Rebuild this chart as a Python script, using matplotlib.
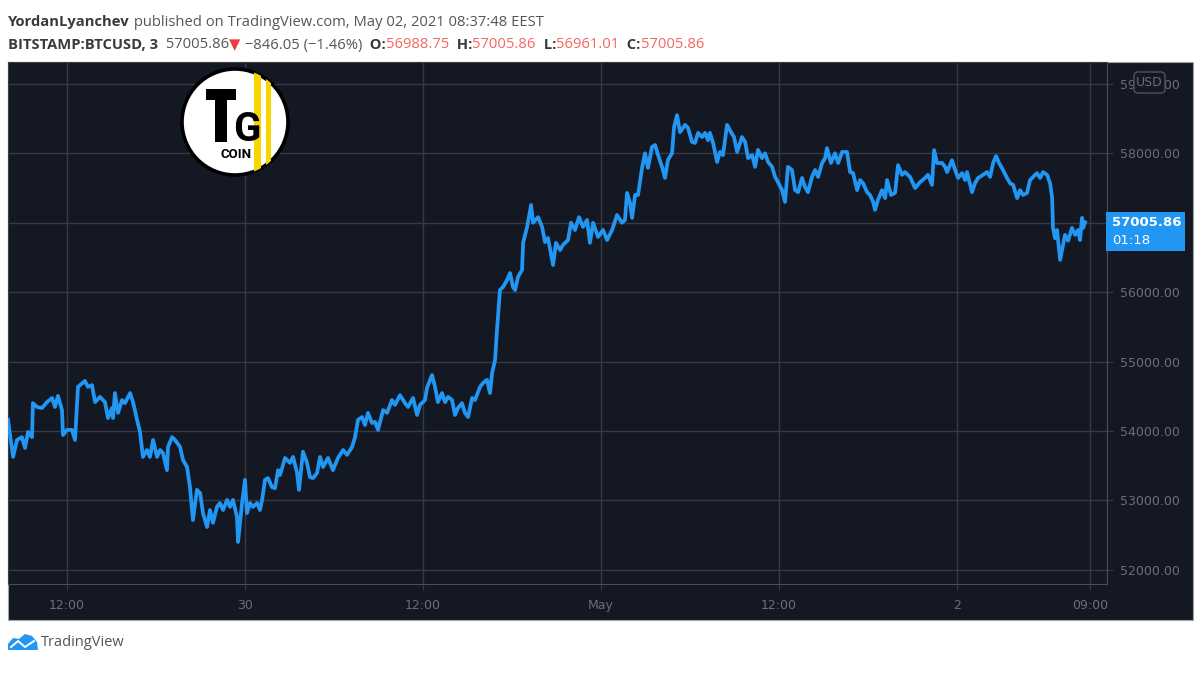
import matplotlib
matplotlib.use("Agg")
import matplotlib.pyplot as plt
from matplotlib.patches import Rectangle, Circle, FancyBboxPatch, Polygon

# BTCUSD 3-min closes, hours counted from 29 Apr 2021 00:00
hours = [
    8.02, 8.36, 8.63, 8.96, 9.17, 9.37, 9.64, 9.70, 9.97, 10.31, 10.65, 10.99, 11.19, 11.39,
    11.66, 11.73, 12.00, 12.33, 12.54, 12.74, 13.21, 13.41, 13.68, 13.89, 14.22, 14.56, 14.76,
    15.03, 15.10, 15.23, 15.44, 15.71, 15.91, 16.25, 16.45, 16.72, 16.92, 17.12, 17.39, 17.59,
    17.80, 18.07, 18.27, 18.47, 18.74, 18.81, 19.08, 19.28, 19.62, 19.82, 20.09, 20.29, 20.49,
    20.76, 20.97, 21.17, 21.44, 21.64, 21.84, 22.11, 22.31, 22.52, 22.79, 22.99, 23.19, 23.46,
    23.53, 23.80, 24.00, 24.13, 24.34, 24.54, 24.81, 25.01, 25.15, 25.35, 25.55, 25.82, 26.02,
    26.23, 26.36, 26.70, 27.03, 27.24, 27.51, 27.64, 27.91, 28.18, 28.38, 28.59, 28.86, 29.06,
    29.26, 29.60, 29.93, 30.27, 30.61, 30.88, 31.22, 31.42, 31.62, 31.89, 32.09, 32.29, 32.56,
    32.77, 32.97, 33.31, 33.58, 33.91, 34.11, 34.45, 34.79, 34.99, 35.33, 35.60, 35.80, 36.14,
    36.27, 36.61, 36.81, 37.01, 37.28, 37.49, 37.69, 37.96, 38.16, 38.36, 38.63, 38.83, 39.04,
    39.31, 39.51, 39.85, 40.05, 40.32, 40.52, 40.66, 40.86, 40.99, 41.19, 41.40, 41.67, 41.87,
    42.07, 42.21, 42.41, 42.68, 42.75, 43.02, 43.29, 43.42, 43.76, 44.03, 44.23, 44.43, 44.77,
    44.97, 45.24, 45.44, 45.78, 45.98, 46.25, 46.52, 46.79, 47.06, 47.26, 47.47, 47.80, 48.14,
    48.41, 48.75, 49.08, 49.42, 49.62, 49.76, 49.96, 50.10, 50.30, 50.50, 50.77, 50.97, 51.17,
    51.44, 51.65, 51.85, 52.12, 52.32, 52.52, 52.79, 52.93, 53.13, 53.33, 53.67, 53.87, 54.14,
    54.34, 54.55, 54.82, 55.02, 55.22, 55.35, 55.56, 55.83, 56.03, 56.23, 56.50, 56.77, 56.97,
    57.18, 57.51, 57.72, 57.92, 58.19, 58.39, 58.59, 58.86, 59.06, 59.27, 59.54, 59.74, 59.94,
    60.21, 60.41, 60.61, 60.88, 61.09, 61.29, 61.56, 61.76, 61.96, 62.23, 62.44, 62.64, 62.91,
    63.11, 63.24, 63.51, 63.78, 63.99, 64.26, 64.59, 64.80, 65.00, 65.27, 65.47, 65.67, 65.94,
    66.14, 66.35, 66.48, 66.68, 66.95, 67.16, 67.29, 67.56, 67.83, 68.03, 68.30, 68.50, 68.84,
    69.18, 69.52, 69.85, 70.05, 70.32, 70.46, 70.66, 71.00, 71.20, 71.34, 71.67, 71.88, 72.08,
    72.35, 72.55, 72.68, 73.02, 73.22, 73.43, 73.76, 74.03, 74.24, 74.44, 74.64, 74.84, 75.11,
    75.38, 75.58, 75.79, 76.06, 76.26, 76.46, 76.73, 76.93, 77.14, 77.40, 77.61, 77.81, 78.08,
    78.28, 78.42, 78.48, 78.62, 78.75, 78.96, 79.09, 79.29, 79.50, 79.76, 79.97, 80.17, 80.30,
    80.44, 80.51, 80.64,
]
prices = [
    54160, 53625, 53870, 53910, 53755, 53985, 53910, 54400, 54345, 54330, 54415, 54475, 54345, 54505,
    54300, 53940, 54015, 54015, 53870, 54635, 54720, 54635, 54660, 54415, 54490, 54415, 54185,
    54330, 54185, 54545, 54260, 54445, 54400, 54545, 54415, 54160, 53985, 53625, 53725, 53625,
    53870, 53625, 53725, 53680, 53435, 53770, 53910, 53870, 53770, 53580, 53480, 53190, 52715,
    53150, 53105, 52815, 52615, 52860, 52675, 52905, 52960, 52860, 53005, 52905, 53005, 52760,
    52400, 52960, 53295, 52815, 52960, 52905, 52960, 52860, 53005, 53295, 53320, 53190, 53175,
    53435, 53365, 53610, 53540, 53625, 53395, 53150, 53700, 53540, 53335, 53320, 53395, 53625,
    53480, 53610, 53435, 53610, 53725, 53655, 53770, 53910, 54160, 54200, 54085, 54260, 54115,
    54130, 54015, 54300, 54260, 54445, 54375, 54515, 54400, 54345, 54475, 54230, 54375, 54445,
    54620, 54805, 54635, 54415, 54545, 54415, 54490, 54445, 54230, 54330, 54400, 54260, 54200,
    54475, 54445, 54635, 54690, 54735, 54545, 54835, 55020, 55455, 56030, 56075, 56175, 56275,
    56075, 56030, 56220, 56320, 56710, 56940, 57255, 57000, 57080, 56940, 56720, 56780, 56390,
    56710, 56605, 56680, 56750, 57000, 56895, 57080, 56940, 57040, 56710, 57000, 56795, 56895,
    56750, 56895, 57110, 57000, 57040, 57430, 57285, 57070, 57400, 57400, 57790, 58000, 57790,
    58090, 58120, 57975, 57805, 57645, 57905, 58000, 58380, 58550, 58305, 58410, 58365, 58165,
    58150, 58295, 58235, 58295, 58190, 58295, 58150, 57875, 58020, 57975, 58410, 58305, 58235,
    58020, 58235, 58165, 57930, 57975, 57805, 58050, 57930, 58000, 57875, 57805, 57660, 57585,
    57470, 57300, 57805, 57760, 57470, 57440, 57645, 57515, 57440, 57660, 57760, 57660, 57860,
    57930, 58075, 57860, 58000, 57860, 58020, 58020, 57730, 57715, 57470, 57615, 57570, 57440,
    57400, 57300, 57185, 57330, 57470, 57355, 57615, 57400, 57430, 57830, 57690, 57730, 57660,
    57500, 57585, 57645, 57690, 57545, 58045, 57860, 57860, 57805, 57730, 57900, 57760, 57645,
    57715, 57615, 57730, 57440, 57570, 57645, 57690, 57730, 57660, 57860, 57960, 57860, 57760,
    57645, 57570, 57545, 57355, 57470, 57400, 57430, 57615, 57660, 57715, 57645, 57730, 57690,
    57570, 57355, 56925, 56775, 56895, 56465, 56605, 56825, 56740, 56925, 56825, 56895, 56750,
    57070, 56925, 57005.86,
]

time_ticks = [12, 24, 36, 48, 60, 72, 81]
time_labels = ["12:00", "30", "12:00", "May", "12:00", "2", "09:00"]
price_ticks = [52000, 53000, 54000, 55000, 56000, 57000, 58000, 59000]
last_price = "57005.86"
countdown = "01:18"

header_1 = [("YordanLyanchev", "bold", "#3a3a3a"),
            (" published on TradingView.com, May 02, 2021 08:37:48 EEST", "normal", "#555555")]
header_2 = [("BITSTAMP:BTCUSD, 3", "bold", "#3a3a3a"), ("  57005.86", "normal", "#555555"),
            ("\u25bc", "normal", "#f23645"), (" \u2212846.05 (\u22121.46%)", "normal", "#555555"),
            ("  O:", "bold", "#3a3a3a"), ("56988.75", "normal", "#f4665f"),
            ("  H:", "bold", "#3a3a3a"), ("57005.86", "normal", "#f4665f"),
            ("  L:", "bold", "#3a3a3a"), ("56961.01", "normal", "#f4665f"),
            ("  C:", "bold", "#3a3a3a"), ("57005.86", "normal", "#f4665f")]

BG = "#141823"
GRID = "#363a45"
TXT = "#6b6e79"
BLUE = "#2196f3"

fig = plt.figure(figsize=(12, 6.75), dpi=100)
fig.patch.set_facecolor("white")

# background layer in pixel units
bg = fig.add_axes([0, 0, 1, 1], zorder=0)
bg.set_xlim(0, 1200)
bg.set_ylim(675, 0)
bg.axis("off")
bg.add_patch(Rectangle((8, 62), 1185, 558, facecolor=BG, edgecolor="#a0a3ab", lw=0.8))
bg.text(20, 84, "Bitcoin / U.S. Dollar, 3, BITSTAMP", color="#3a3e4a", fontsize=9.5,
        fontweight="bold", va="center", family="DejaVu Sans")

renderer = fig.canvas.get_renderer()


def put_line(parts, y):
    x = 8
    for s, w, c in parts:
        fam = ["DejaVu Sans"] if s == "\u25bc" else ["Open Sans", "DejaVu Sans"]
        t = bg.text(x, y, s, fontsize=10.6, fontweight=w, color=c, va="center", family=fam)
        x += t.get_window_extent(renderer).width


put_line(header_1, 22)
put_line(header_2, 45)

# chart
ax = fig.add_axes([8 / 1200, 1 - 584 / 675, 1099 / 1200, 522 / 675], zorder=1)
ax.set_facecolor(BG)
ax.plot(hours, prices, color=BLUE, lw=2.7, solid_joinstyle="round", zorder=3)
ax.set_xlim(8.02, 82.12)
ax.set_ylim(51794, 59316)
ax.set_xticks(time_ticks)
ax.set_xticklabels(time_labels)
ax.set_yticks(price_ticks)
# the 57000 label sits under the last-price tag, so it is left blank
ax.set_yticklabels(["" if p == 57000 else f"{p:.2f}" for p in price_ticks])
ax.yaxis.tick_right()
ax.grid(color=GRID, lw=1)
ax.tick_params(axis="x", colors=GRID, labelcolor=TXT, labelsize=9, length=4, pad=7)
ax.tick_params(axis="y", colors=GRID, labelcolor=TXT, labelsize=9, length=4, pad=5)
for s in ax.spines.values():
    s.set_color("#3b3f4a")
ax.spines["right"].set_color("#4a4e59")
ax.spines["bottom"].set_color("#4a4e59")

# overlay layer: logo, labels
ov = fig.add_axes([0, 0, 1, 1], zorder=2)
ov.set_xlim(0, 1200)
ov.set_ylim(675, 0)
ov.axis("off")

ov.add_patch(FancyBboxPatch((1134, 72), 31, 21, boxstyle="round,pad=0,rounding_size=4",
                            facecolor=BG, edgecolor="#4f535e", lw=1))
ov.text(1149.5, 83, "USD", color=TXT, fontsize=9, ha="center", va="center")

ov.add_patch(Rectangle((1106, 212), 79, 39, facecolor=BLUE, edgecolor="none"))
ov.text(1112, 222, last_price, color="white", fontsize=9.5, fontweight="bold", va="center")
ov.text(1112, 240, countdown, color="white", fontsize=9.5, va="center")

# TG coin logo
circ = Circle((235, 122), 53, facecolor="white", edgecolor="black", lw=2.6, zorder=5)
ov.add_patch(circ)
for x0, w in [(254, 7), (266, 5)]:
    r = Rectangle((x0, 70), w, 110, facecolor="#f7d600", edgecolor="none", zorder=6)
    r.set_clip_path(circ)
    ov.add_patch(r)
ov.add_patch(Rectangle((206, 89), 30, 11, facecolor="black", zorder=7))
ov.add_patch(Rectangle((215, 89), 12, 53, facecolor="black", zorder=7))
ov.text(247, 130, "G", fontsize=29, fontweight="bold", color="black", ha="center",
        va="center", family="Roboto", zorder=8)
ov.text(236, 155, "COIN", fontsize=9.5, fontweight="bold", color="black", ha="center",
        va="center", family="Roboto", zorder=8)

# TradingView footer
ov.add_patch(Polygon([(8, 650), (8, 644), (13, 638), (19, 639), (25, 634), (32, 636),
                      (37, 642), (38, 650)], closed=True, facecolor=BLUE, edgecolor="none"))
ov.plot([11, 18, 25, 34], [647, 641, 647, 641], color="white", lw=1.4)
ov.text(41, 643, "TradingView", fontsize=10.5, color="#555555", va="center",
        family=["Open Sans", "DejaVu Sans"])

fig.savefig("out.png", dpi=100, facecolor="white")
